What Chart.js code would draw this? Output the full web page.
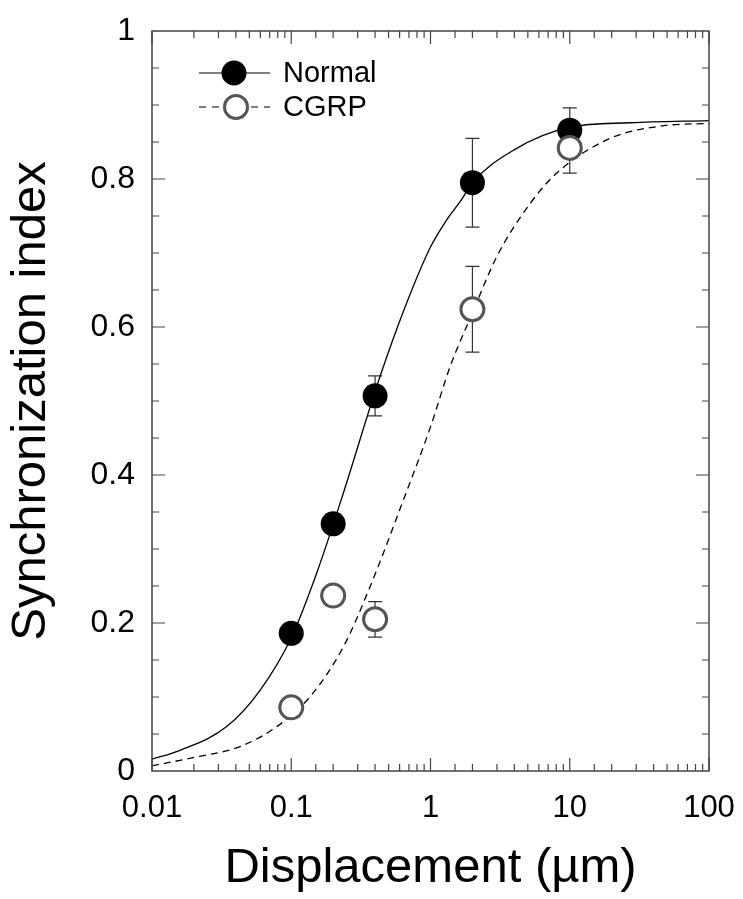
<!DOCTYPE html>
<html>
<head>
<meta charset="utf-8">
<script src="https://cdn.jsdelivr.net/npm/chart.js@4.4.1/dist/chart.umd.min.js"></script>
<style>
  html, body { margin: 0; padding: 0; background: #fff; }
  canvas { display: block; }
</style>
</head>
<body>
<canvas id="myChart" width="743" height="899"></canvas>
<script>
// measured points (displacement in um)
const doses = [0.1, 0.2, 0.4, 2, 10]
const normalMean = [0.186, 0.334, 0.507, 0.795, 0.866]
const normalErr  = [0, 0, 0.027, 0.06, 0.03]
const cgrpMean   = [0.086, 0.237, 0.205, 0.624, 0.842]
const cgrpErr    = [0, 0, 0.024, 0.058, 0.034]

// fitted curves
const normalFitX = [0.01, 0.0159, 0.0344, 0.0597, 0.1, 0.152, 0.228, 0.434, 0.657, 1, 1.31, 1.67, 2, 3.95, 10, 27.2, 100]
const normalFitY = [0.016, 0.028, 0.060, 0.109, 0.180, 0.267, 0.366, 0.533, 0.627, 0.708, 0.745, 0.772, 0.795, 0.839, 0.870, 0.876, 0.879]
const cgrpFitX = [0.01, 0.0209, 0.0429, 0.0787, 0.136, 0.237, 0.368, 0.638, 1, 1.38, 2, 2.99, 5.2, 8.07, 19.5, 47.1, 100]
const cgrpFitY = [0.007, 0.019, 0.033, 0.060, 0.100, 0.168, 0.249, 0.366, 0.465, 0.546, 0.619, 0.695, 0.767, 0.808, 0.855, 0.872, 0.875]

const xTickLabels = ["0.01", "0.1", "1", "10", "100"]
const yTickLabels = ["0", "0.2", "0.4", "0.6", "0.8", "1"]
const seriesNames = ["Normal", "CGRP"]

const FONT = "'Liberation Sans', Arial, Helvetica, sans-serif"
const toXY = (xs, ys) => xs.map((x, i) => ({x: x, y: ys[i]}))

const errorBars = {
    id: 'errorBars',
    beforeDatasetsDraw(chart) {
        const ctx = chart.ctx
        const xs = chart.scales.x, ys = chart.scales.y
        ctx.save()
        ctx.strokeStyle = '#333'
        ctx.lineWidth = 1.2
        const sets = [[normalMean, normalErr], [cgrpMean, cgrpErr]]
        sets.forEach(([m, e]) => {
            doses.forEach((d, i) => {
                if (!e[i]) return
                const px = xs.getPixelForValue(d)
                const top = ys.getPixelForValue(m[i] + e[i])
                const bot = ys.getPixelForValue(m[i] - e[i])
                ctx.beginPath()
                ctx.moveTo(px, top); ctx.lineTo(px, bot)
                ctx.moveTo(px - 7, top); ctx.lineTo(px + 7, top)
                ctx.moveTo(px - 7, bot); ctx.lineTo(px + 7, bot)
                ctx.stroke()
            })
        })
        ctx.restore()
    }
}

const frameAndTicks = {
    id: 'frameAndTicks',
    afterDatasetsDraw(chart) {
        const ctx = chart.ctx
        const a = chart.chartArea
        const xs = chart.scales.x, ys = chart.scales.y
        ctx.save()
        ctx.strokeStyle = '#444'
        ctx.lineWidth = 1.5
        ctx.strokeRect(a.left, a.top, a.right - a.left, a.bottom - a.top)
        ctx.lineWidth = 1.2
        ctx.beginPath()
        xs.ticks.forEach(t => {
            const lg = Math.log10(t.value)
            const major = Math.abs(lg - Math.round(lg)) < 1e-6
            const len = major ? 13 : 7
            const px = xs.getPixelForValue(t.value)
            ctx.moveTo(px, a.bottom); ctx.lineTo(px, a.bottom - len)
            ctx.moveTo(px, a.top); ctx.lineTo(px, a.top + len)
        })
        for (let k = 1; k < 20; k++) {
            const v = k * 0.05
            const len = k % 4 === 0 ? 13 : 7
            const py = ys.getPixelForValue(v)
            ctx.moveTo(a.left, py); ctx.lineTo(a.left + len, py)
            ctx.moveTo(a.right, py); ctx.lineTo(a.right - len, py)
        }
        ctx.stroke()
        ctx.restore()
    },
    afterDraw(chart) {
        // legend: line through marker, then label
        const ctx = chart.ctx
        const a = chart.chartArea
        const x0 = a.left + 47, x1 = a.left + 118
        const rows = [a.top + 42, a.top + 76]
        ctx.save()
        ctx.strokeStyle = '#000'
        ctx.lineWidth = 1.2
        rows.forEach((y, i) => {
            ctx.setLineDash(i === 0 ? [] : [7, 6])
            ctx.beginPath(); ctx.moveTo(x0, y); ctx.lineTo(x1, y); ctx.stroke()
        })
        ctx.setLineDash([])
        ctx.beginPath(); ctx.arc(a.left + 82, rows[0], 12.5, 0, Math.PI * 2)
        ctx.fillStyle = '#000'; ctx.fill()
        ctx.beginPath(); ctx.arc(a.left + 84, rows[1], 11.5, 0, Math.PI * 2)
        ctx.fillStyle = '#fff'; ctx.fill()
        ctx.lineWidth = 3; ctx.strokeStyle = '#555'; ctx.stroke()
        ctx.fillStyle = '#000'
        ctx.font = '29px ' + FONT
        ctx.textBaseline = 'middle'
        ctx.fillText(seriesNames[0], a.left + 131, rows[0] + 1)
        ctx.fillText(seriesNames[1], a.left + 131, rows[1] + 1)
        ctx.restore()
    }
}

const data = {
    datasets: [
        {
            label: seriesNames[1] + " data",
            type: 'scatter',
            data: toXY(doses, cgrpMean),
            pointRadius: 11.5,
            pointHoverRadius: 11.5,
            pointBackgroundColor: '#fff',
            pointBorderColor: '#555',
            pointBorderWidth: 3
        },
        {
            label: seriesNames[0] + " data",
            type: 'scatter',
            data: toXY(doses, normalMean),
            pointRadius: 12.5,
            pointHoverRadius: 12.5,
            pointBackgroundColor: '#000',
            pointBorderColor: '#000',
            pointBorderWidth: 0
        },
        {
            label: seriesNames[0] + " fit",
            type: 'line',
            data: toXY(normalFitX, normalFitY),
            borderColor: '#000',
            borderWidth: 1.3,
            pointRadius: 0,
            cubicInterpolationMode: 'monotone',
            fill: false
        },
        {
            label: seriesNames[1] + " fit",
            type: 'line',
            data: toXY(cgrpFitX, cgrpFitY),
            borderColor: '#000',
            borderWidth: 1.3,
            borderDash: [7, 5],
            pointRadius: 0,
            cubicInterpolationMode: 'monotone',
            fill: false
        }
    ]
}

const config = {
    type: 'scatter',
    data: data,
    plugins: [errorBars, frameAndTicks],
    options: {
        responsive: false,
        animation: false,
        layout: { padding: { top: 31, right: 34, left: 0, bottom: 0 } },
        plugins: { legend: { display: false }, tooltip: { enabled: false } },
        scales: {
            x: {
                type: 'logarithmic',
                min: 0.01,
                max: 100,
                grid: { display: false, drawTicks: false },
                border: { display: false },
                afterFit: s => { s.height = 128; s.paddingLeft = 0; s.paddingRight = 0 },
                ticks: {
                    autoSkip: false,
                    maxRotation: 0,
                    padding: 19,
                    color: '#000',
                    font: { family: FONT, size: 31 },
                    callback: v => {
                        const lg = Math.log10(v)
                        if (Math.abs(lg - Math.round(lg)) > 1e-6) return ''
                        return xTickLabels[Math.round(lg) + 2]
                    }
                },
                title: {
                    display: true,
                    text: 'Displacement (\u00b5m)',
                    color: '#000',
                    font: { family: FONT, size: 49, lineHeight: 1 },
                    padding: { top: 0, bottom: 6 }
                }
            },
            y: {
                min: 0,
                max: 1,
                grid: { display: false, drawTicks: false },
                border: { display: false },
                afterFit: s => { s.width = 152; s.paddingTop = 0; s.paddingBottom = 0 },
                ticks: {
                    stepSize: 0.2,
                    padding: 17,
                    color: '#000',
                    font: { family: FONT, size: 32 },
                    callback: (v, i) => yTickLabels[Math.round(v * 5)]
                },
                title: {
                    display: true,
                    text: 'Synchronization index',
                    color: '#000',
                    font: { family: FONT, size: 49, lineHeight: 1 },
                    padding: { top: 7, bottom: 0 }
                }
            }
        }
    }
}

const myChart = new Chart(document.getElementById("myChart"), config)
</script>
</body>
</html>
